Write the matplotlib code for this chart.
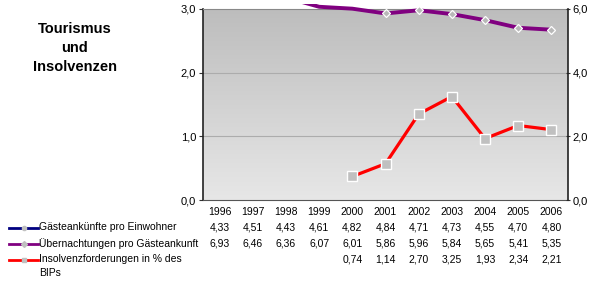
import numpy as np
import matplotlib.pyplot as plt
import matplotlib.transforms as mtransforms
from matplotlib.colors import LinearSegmentedColormap

# DATA
years = ["1996", "1997", "1998", "1999", "2000", "2001", "2002", "2003", "2004", "2005", "2006"]
gaeste = [4.33, 4.51, 4.43, 4.61, 4.82, 4.84, 4.71, 4.73, 4.55, 4.70, 4.80]
uebern = [6.93, 6.46, 6.36, 6.07, 6.01, 5.86, 5.96, 5.84, 5.65, 5.41, 5.35]
insolv = [None, None, None, None, 0.74, 1.14, 2.70, 3.25, 1.93, 2.34, 2.21]
row_labels = ["Gästeankünfte pro Einwohner", "Übernachtungen pro Gästeankunft",
              "Insolvenzforderungen in % des\nBIPs"]
left_ticks = [0, 1, 2, 3]
right_ticks = [0, 2, 4, 6]

plt.rcParams['font.family'] = ['Liberation Sans', 'DejaVu Sans']

W, H = 609, 284
fig = plt.figure(figsize=(W / 100, H / 100), dpi=100)
fig.patch.set_facecolor("white")

def fx(px):
    return px / W

def fy(py):
    return 1 - py / H

def fmt(v, n):
    return f"{v:.{n}f}".replace(".", ",")

x0, x1, y0, y1 = 203, 568, 9, 200
ax = fig.add_axes([fx(x0), fy(y1), fx(x1 - x0), (y1 - y0) / H])
x = np.arange(len(years))
ax.set_xlim(-0.5, len(years) - 0.5)
ax.set_ylim(0, 3)

# gradient background
grad = np.linspace(0, 1, 256).reshape(-1, 1)
ax.imshow(grad, extent=[-0.5, len(years) - 0.5, 0, 3], aspect="auto",
          cmap=LinearSegmentedColormap.from_list("g", ["#e7e7e7", "#bdbdbd"]),
          origin="lower", zorder=0)
for g in [1, 2]:
    ax.axhline(g, color="#acacac", lw=0.8, zorder=1)

ax.plot(x, gaeste, color="#000080", lw=2.5, marker="o", ms=3,
        mfc="#c0c0c0", mec="white", zorder=3)

ax.set_yticks(left_ticks)
ax.set_yticklabels([fmt(v, 1) for v in left_ticks], fontsize=8)
ax.set_xticks([])
ax.tick_params(axis="y", length=3, width=0.8, color="#333333", pad=2)
ax.spines["left"].set_color("#222222")
ax.spines["left"].set_linewidth(1.2)
ax.spines["top"].set_color("#888888")
ax.spines["bottom"].set_color("#555555")
ax.spines["right"].set_visible(False)

ax2 = ax.twinx()
ax2.set_ylim(0, 6)
# Excel lets the line run a few pixels above the plot area
clip = plt.Rectangle((fx(x0), fy(y1)), fx(x1 - x0), (y1 - 4) / H,
                     transform=fig.transFigure, visible=False)
fig.add_artist(clip)
vis = [i for i, v in enumerate(uebern) if v <= 6.0]
pl, = ax2.plot(x, uebern, color="#800080", lw=2.8, marker="D", ms=3.8,
               mfc="#b8b8b8", mec="white", mew=0.9, markevery=vis, zorder=3)
pl.set_clip_path(clip)
ins = np.array([np.nan if v is None else v for v in insolv], dtype=float)
ax2.plot(x, ins, color="#ff0000", lw=2.3, marker="s", ms=7,
         mfc="#c0c0c0", mec="white", mew=1.0, zorder=4)
ax2.set_yticks(right_ticks)
ax2.set_yticklabels([fmt(v, 1) for v in right_ticks], fontsize=8)
ax2.tick_params(axis="y", length=3, width=0.8, direction="inout", color="#333333", pad=2)
ax2.spines["right"].set_color("#222222")
ax2.spines["right"].set_linewidth(1.2)
for s in ["left", "top", "bottom"]:
    ax2.spines[s].set_visible(False)

# title
for txt, yy in zip(["Tourismus", "und", "Insolvenzen"], [29, 48, 67]):
    fig.text(fx(75), fy(yy), txt, ha="center", va="center", fontsize=10.5, fontweight="bold")

# data table
trans = mtransforms.blended_transform_factory(ax.transData, fig.transFigure)
for i, yr in enumerate(years):
    ax.text(i, fy(212), yr, transform=trans, ha="center", va="center", fontsize=7.5)

rows = [gaeste, uebern, insolv]
row_y = [228, 244, 260]
for vals, yy in zip(rows, row_y):
    for i, v in enumerate(vals):
        if v is not None:
            ax.text(i, fy(yy), fmt(v, 2), transform=trans,
                    ha="center", va="center", fontsize=7.5)

# legend keys
key_styles = [("#000080", "o", 3), ("#800080", "D", 3), ("#ff0000", "s", 3.5)]
for (col, mk, ms), lab, yy in zip(key_styles, row_labels, row_y):
    fig.add_artist(plt.Line2D([fx(9), fx(38)], [fy(yy), fy(yy)], color=col, lw=2))
    fig.add_artist(plt.Line2D([fx(23.5)], [fy(yy)], marker=mk, ms=ms, mfc="#c0c0c0",
                              mec="#c0c0c0", color=col))
    fig.text(fx(39), fy(yy - 6), lab, ha="left", va="top", fontsize=7.5,
             linespacing=1.55)

fig.savefig("out.png", dpi=100)
